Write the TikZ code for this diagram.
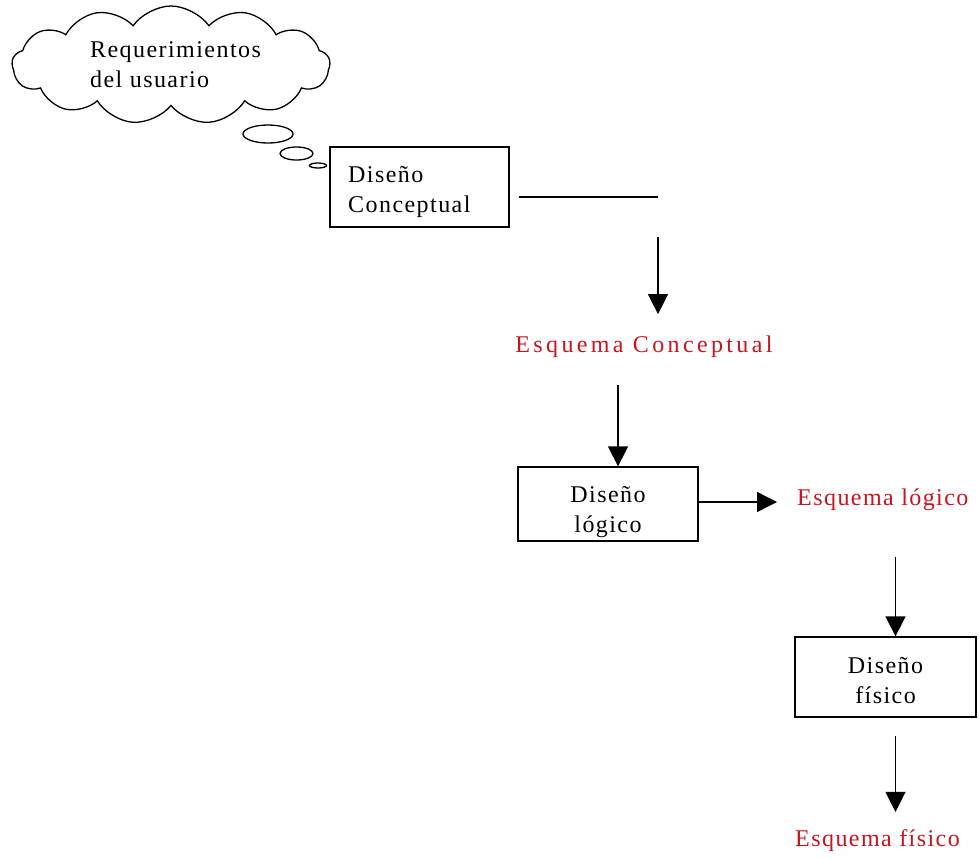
\documentclass[tikz,border=0pt]{standalone}
\usepackage{fontspec}
\setmainfont{Liberation Serif}
\newfontfamily\blk[LetterSpace=6]{Liberation Serif}
\newfontfamily\rdf[LetterSpace=14]{Liberation Serif}
\newfontfamily\rdg[LetterSpace=6]{Liberation Serif}
\usetikzlibrary{arrows.meta,shapes.symbols,shapes.geometric}
\definecolor{esq}{RGB}{200,20,30}
\tikzset{
  ln/.style={line width=1.3pt, draw=black},
  arr/.style={ln, -{Triangle[width=20pt,length=20pt]}},
  box/.style={draw=black, line width=1.3pt, fill=white, inner sep=0pt},
  txt/.style={font=\blk\fontsize{24}{30}\selectfont, inner sep=0pt},
  lbl/.style={text=esq, font=\rdg\fontsize{24}{30}\selectfont, inner sep=0pt},
  bub/.style={draw=black, line width=1.3pt, ellipse, inner sep=0pt}
}
\begin{document}
\begin{tikzpicture}[x=1pt,y=-1pt]
\useasboundingbox[fill=white] (0,0) rectangle (979,857);
% cloud
\node[cloud, draw, line width=1.3pt, cloud puffs=13, cloud puff arc=110, aspect=2.7,
      minimum width=318, minimum height=118, inner sep=0pt] (cl) at (171,65) {};
\node[txt, align=left, anchor=north west] (clt) at (90,41) {Requerimientos\\del usuario};
\node[bub, minimum width=50, minimum height=18] (b1) at (268,134) {};
\node[bub, minimum width=33, minimum height=13] (b2) at (296.5,153.5) {};
\node[bub, minimum width=17, minimum height=5] (b3) at (318,165.5) {};
% boxes
\node[box, minimum width=179, minimum height=80] (dc) at (419.5,187) {};
\node[txt, align=left, anchor=north west] (dct) at (348,166) {Diseño\\Conceptual};
\node[box, minimum width=180, minimum height=74] (dl) at (608,504) {};
\node[txt, align=center, anchor=north] (dlt) at (608,486) {Diseño\\lógico};
\node[box, minimum width=181, minimum height=80] (df) at (885.5,677) {};
\node[txt, align=center, anchor=north] (dft) at (885.5,657) {Diseño\\físico};
% labels
\node[lbl, font=\rdf\fontsize{24}{30}\selectfont, anchor=base] (ec) at (644,352) {Esquema Conceptual};
\node[lbl, anchor=base west] (el) at (797,505) {Esquema lógico};
\node[lbl, anchor=base west] (ef) at (795,846) {Esquema físico};
% connectors
\coordinate (c1) at (658,197);
\coordinate (c2) at (658,237);
\draw[ln] ([shift={(9,10)}]dc.east) -- (c1);
\draw[arr, shorten >=21] (c2) -- (c2 |- ec.north);
\coordinate (a2) at ([xshift=10]dl.north);
\draw[arr, shorten <=28] (a2 |- ec.south) -- (a2);
\draw[arr, shorten >=20] ([yshift=2]dl.east) -- ([yshift=2]dl.east -| el.west);
\coordinate (a3) at ([xshift=10]df.north);
\draw[arr, shorten <=47] (a3 |- el.south) -- (a3);
\coordinate (a4) at ([xshift=10]df.south);
\draw[arr, shorten <=18, shorten >=17] (a4) -- (a4 |- ef.north);
\end{tikzpicture}
\end{document}
